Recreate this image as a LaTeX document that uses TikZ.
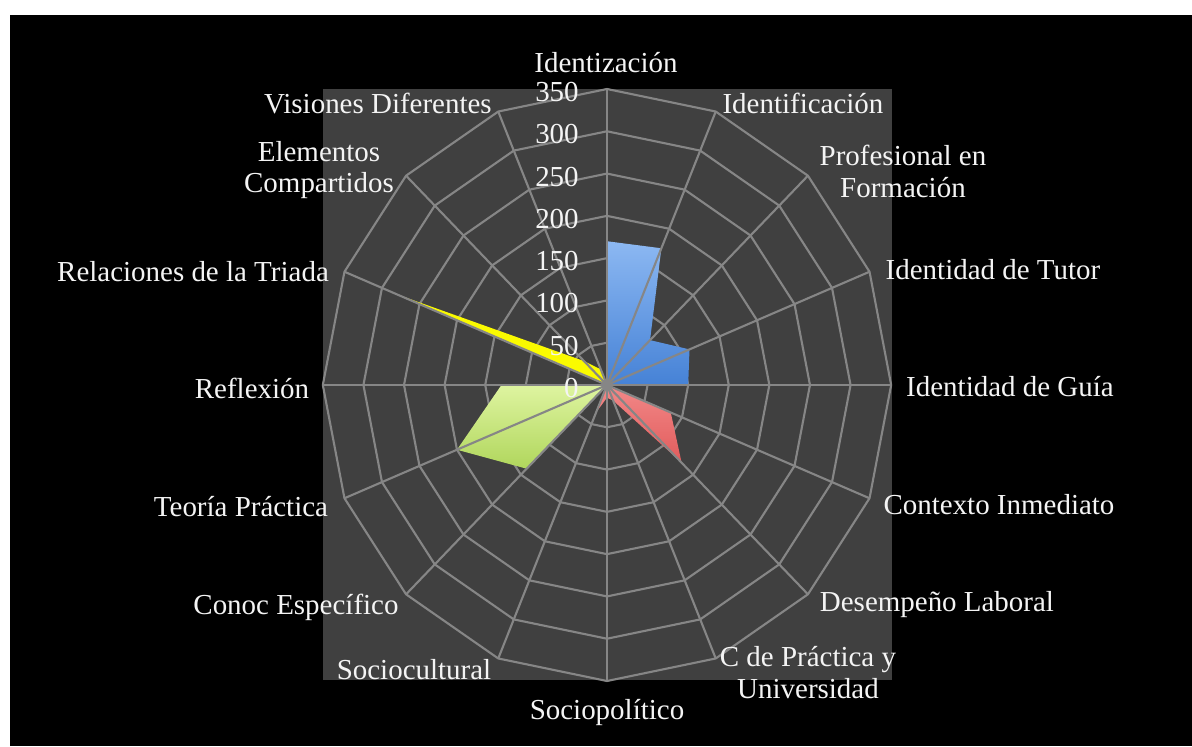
\documentclass[tikz,border=0pt]{standalone}
\usepackage{fontspec}
\setmainfont{Liberation Serif}

\definecolor{plotgray}{RGB}{64,64,64}
\definecolor{gridgray}{RGB}{134,134,134}
\definecolor{txtwhite}{RGB}{244,244,244}
\definecolor{blueTop}{RGB}{140,184,242}
\definecolor{blueBot}{RGB}{70,130,214}
\definecolor{redTop}{RGB}{242,136,136}
\definecolor{redBot}{RGB}{226,92,92}
\definecolor{greenTop}{RGB}{222,244,160}
\definecolor{greenBot}{RGB}{176,214,92}
\definecolor{yellowFill}{RGB}{250,250,0}

\begin{document}
\begin{tikzpicture}[x=0.025cm, y=0.025cm,
		lbl/.style={text=txtwhite, font=\fontsize{20.6}{22.7}\selectfont, inner sep=0pt, align=center},
		num/.style={lbl, anchor=east},
		gridline/.style={draw=gridgray, line width=1.5pt, line join=round}]
		% Background and plot area
		\fill[white] (-607,-361) rectangle (585,385);
		\fill[black] (-597,-361) rectangle (585,370);
		\fill[plotgray] (-284,-295) rectangle (285,296);
		
		% Chart in value units
		\begin{scope}[xscale=0.8119, yscale=0.8457]
			% Rings
			\foreach \r in {50,100,...,350}
				\draw[gridline] (90:\r) \foreach \k in {1,...,15}{ -- ({90-22.5*\k}:\r)} -- cycle;
			
			% Series
			\shade[top color=blueTop, bottom color=blueBot]
				(0,0) -- (90:170) -- (67.5:175) -- (45:75) -- (22.5:110) -- (0:100) -- cycle;
			\shade[top color=redTop, bottom color=redBot]
				(0,0) -- (-22.5:85) -- (-45:130) -- (-67.5:20) -- (-90:15) -- (-112.5:35) -- cycle;
			\shade[top color=greenTop, bottom color=greenBot]
				(0,0) -- (180:130) -- (202.5:200) -- (225:140) -- cycle;
			\fill[yellowFill]
				(0,0) -- (112.5:20) -- (135:40) -- (157.5:280) -- cycle;
			
			% Spokes
			\foreach \k in {0,...,15}
				\draw[gridline] (0,0) -- ({90-22.5*\k}:350);
		\end{scope}
		
		% Scale
		\foreach \v in {0,50,...,350}
			\node[num] (n\v) at (-28, {\v*0.845714-3}) {\v};
		
		% Axis labels
		\node[lbl] (ident) at (-1,322) {Identización};
		\node[lbl] (identif) at (196,282) {Identificación};
		\node[lbl] (prof) at (296,214) {Profesional en\\Formación};
		\node[lbl] (tutor) at (386,115) {Identidad de Tutor};
		\node[lbl] (guia) at (403,-2) {Identidad de Guía};
		\node[lbl] (contexto) at (392,-120) {Contexto Inmediato};
		\node[lbl] (desemp) at (330,-220) {Desempeño Laboral};
		\node[lbl] (cpract) at (201,-288) {C de Práctica y\\Universidad};
		\node[lbl] (sociopol) at (0,-328) {Sociopolítico};
		\node[lbl] (sociocul) at (-193,-285) {Sociocultural};
		\node[lbl] (conoc) at (-311,-222) {Conoc Específico};
		\node[lbl] (teoria) at (-366,-122) {Teoría Práctica};
		\node[lbl] (reflex) at (-355,-3) {Reflexión};
		\node[lbl] (triada) at (-414,113) {Relaciones de la Triada};
		\node[lbl] (elem) at (-288,215) {Elementos\\Compartidos};
		\node[lbl] (visiones) at (-229,281) {Visiones Diferentes};
		
	\end{tikzpicture}
\end{document}
